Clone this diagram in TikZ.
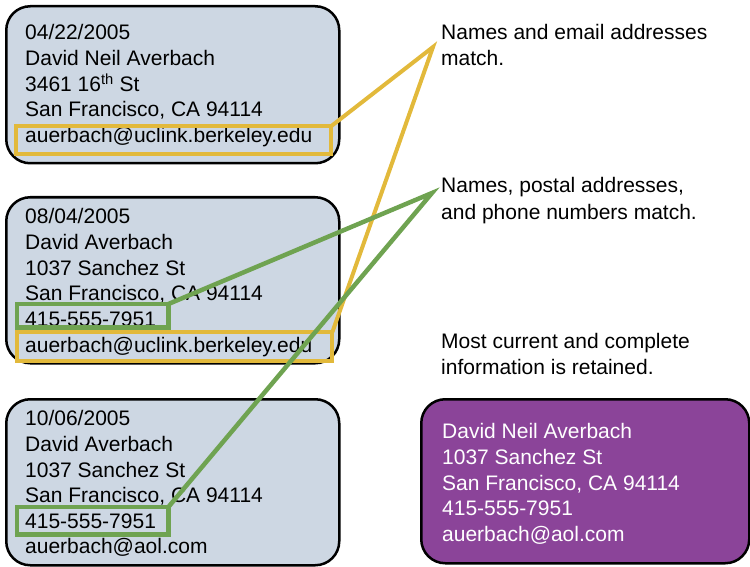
\documentclass[tikz,border=0pt]{standalone}
\usepackage{fontspec}
\setmainfont{Liberation Sans}
\begin{document}
\begin{tikzpicture}[x=1pt,y=-1pt,
  card/.style={draw=black, line width=2.5pt, rounded corners=24pt, fill=cardblue},
  pcard/.style={draw=black, line width=2.5pt, rounded corners=24pt, fill=cardpurple},
  txt/.style={anchor=base west, inner sep=0pt, font=\fontsize{21}{25}\selectfont},
  wtxt/.style={txt, text=white},
  hl/.style={inner sep=0pt, anchor=north west},
  ybox/.style={draw=hlyellow, line width=4pt},
  gbox/.style={draw=hlgreen, line width=4.5pt},
  yline/.style={draw=hlyellow, line width=4pt, line join=miter},
  gline/.style={draw=hlgreen, line width=4.5pt, line join=miter}]
\definecolor{cardblue}{HTML}{CDD7E3}
\definecolor{cardpurple}{HTML}{8B4499}
\definecolor{hlyellow}{HTML}{E2B93B}
\definecolor{hlgreen}{HTML}{6FA351}
\useasboundingbox (0,0) rectangle (750,567);
% cards
\node[card, minimum width=333pt, minimum height=157pt, anchor=north west] (c1) at (5,5) {};
\node[card, minimum width=333pt, minimum height=166pt, anchor=north west] (c2) at (5,196) {};
\node[card, minimum width=333pt, minimum height=166pt, anchor=north west] (c3) at (5,398) {};
\node[pcard, minimum width=328pt, minimum height=164pt, anchor=north west] (c4) at (420,398) {};
% card 1 text
\node[txt] (a1) at (25,40) {04/22/2005};
\node[txt] (a2) at (25,66) {David Neil Averbach};
\node[txt] (a3) at (25,92) {3461 16\textsuperscript{th} St};
\node[txt] (a4) at (25,117) {San Francisco, CA 94114};
\node[txt] (a5) at (25,143) {auerbach@uclink.berkeley.edu};
% card 2 text
\node[txt] (b1) at (25,223) {08/04/2005};
\node[txt] (b2) at (25,249) {David Averbach};
\node[txt] (b3) at (25,275) {1037 Sanchez St};
\node[txt] (b4) at (25,300) {San Francisco, CA 94114};
\node[txt] (b5) at (25,326) {415-555-7951};
\node[txt] (b6) at (25,352) {auerbach@uclink.berkeley.edu};
% card 3 text
\node[txt] (d1) at (25,425) {10/06/2005};
\node[txt] (d2) at (25,451) {David Averbach};
\node[txt] (d3) at (25,477) {1037 Sanchez St};
\node[txt] (d4) at (25,502) {San Francisco, CA 94114};
\node[txt] (d5) at (25,528) {415-555-7951};
\node[txt] (d6) at (25,553) {auerbach@aol.com};
% card 4 text
\node[wtxt] (e1) at (442,438) {David Neil Averbach};
\node[wtxt] (e2) at (442,464) {1037 Sanchez St};
\node[wtxt] (e3) at (442,490) {San Francisco, CA 94114};
\node[wtxt] (e4) at (442,515) {415-555-7951};
\node[wtxt] (e5) at (442,541) {auerbach@aol.com};
% labels
\node[txt] (l1) at (441,40) {Names and email addresses};
\node[txt] (l1b) at (441,66) {match.};
\node[txt] (l2) at (441,193) {Names, postal addresses,};
\node[txt] (l2b) at (441,219) {and phone numbers match.};
\node[txt] (l3) at (441,348) {Most current and complete};
\node[txt] (l3b) at (441,374) {information is retained.};
% highlight boxes
\node[hl, minimum width=315pt, minimum height=28pt] (y1) at (16,126) {};
\draw[ybox] (y1.north west) rectangle (y1.south east);
\node[hl, minimum width=315pt, minimum height=29pt] (y2) at (17,332) {};
\draw[ybox] (y2.north west) rectangle (y2.south east);
\node[hl, minimum width=151pt, minimum height=23pt] (g1) at (17,304) {};
\draw[gbox] (g1.north west) rectangle (g1.south east);
\node[hl, minimum width=151pt, minimum height=27pt] (g2) at (17,507) {};
\draw[gbox] (g2.north west) rectangle (g2.south east);
% apex points
\coordinate (ya) at (433,47);
\coordinate (ga) at (432,193);
% connectors
\draw[yline] (y1.north east) -- (ya) -- (y2.north east);
\draw[gline] (g1.north east) -- (ga) -- (g2.north east);
\end{tikzpicture}
\end{document}
